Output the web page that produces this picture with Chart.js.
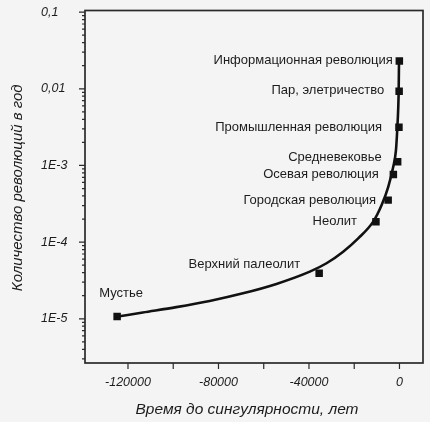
<!DOCTYPE html>
<html lang="ru">
<head>
<meta charset="utf-8">
<title>Количество революций в год</title>
<script src="https://cdn.jsdelivr.net/npm/chart.js@4.4.1/dist/chart.umd.min.js"></script>
<style>
  html, body { margin: 0; padding: 0; background: #f4f4f4; }
  #chart { display: block; }
</style>
</head>
<body>
<canvas id="chart" width="430" height="422"></canvas>
<script>
// ДАННЫЕ: события (точки)
const eventNames = ['Мустье', 'Верхний палеолит', 'Неолит', 'Городская революция', 'Осевая революция',
  'Средневековье', 'Промышленная революция', 'Пар, элетричество', 'Информационная революция'];
const eventYears = [-124800, -35500, -10400, -5000, -2700, -800, -230, -150, -60];
const eventRates = [1.07e-5, 3.93e-5, 1.85e-4, 3.53e-4, 7.6e-4, 1.12e-3, 3.15e-3, 9.3e-3, 0.023];

// ДАННЫЕ: кривая
const curveYears = [-124500, -113450, -98660, -83900, -69170, -54380, -39630, -32240, -24890,
  -18240, -11600, -7880, -4960, -2750, -1550, -1000, -530, -350, -200];
const curveRates = [1.07e-5, 1.21e-5, 1.42e-5, 1.71e-5, 2.15e-5, 2.85e-5, 4.12e-5, 5.3e-5, 7.5e-5,
  1.12e-4, 1.85e-4, 3.04e-4, 5.26e-4, 9.6e-4, 1.58e-3, 2.88e-3, 5.8e-3, 9.5e-3, 0.0235];

// ПОДПИСИ ОСЕЙ
const xTickValues = [-120000, -100000, -80000, -60000, -40000, -20000, 0];
const xTickLabels = ['-120000', '', '-80000', '', '-40000', '', '0'];
const yDecades = [1e-5, 1e-4, 1e-3, 0.01, 0.1];
const yTickLabels = ['1E-5', '1E-4', '1E-3', '0,01', '0,1'];
const xTitle = 'Время до сингулярности, лет';
const yTitle = 'Количество революций в год';

// СТИЛЬ
const fontFamily = '"Liberation Sans", Arial, sans-serif';
const textColor = '#1c1c1c';
const axisColor = '#2a2a2a';
// смещение подписи от точки: [dx, dy, выравнивание]
const labelOffsets = [[4, -23, 'center'], [-19, -9, 'right'], [-19, 0, 'right'], [-12, 0, 'right'],
  [-14.5, 0, 'right'], [-16, -4.5, 'right'], [-17, 0, 'right'], [-15, -1, 'right'], [-6.5, -0.5, 'right']];

// РАМКА, ЗАСЕЧКИ, ПОДПИСИ ОСЕЙ
const frameAndMarks = {
  id: 'frameAndMarks',
  afterDraw(chart) {
    const { ctx, chartArea: a, scales } = chart;
    ctx.save();
    ctx.strokeStyle = axisColor;
    ctx.lineWidth = 1.2;
    ctx.beginPath();
    scales.y.ticks.forEach(t => {
      const py = scales.y.getPixelForValue(t.value);
      const len = t.label ? 6 : 3;
      ctx.moveTo(a.left - len, py);
      ctx.lineTo(a.left, py);
    });
    scales.x.ticks.forEach(t => {
      const px = scales.x.getPixelForValue(t.value);
      ctx.moveTo(px, a.bottom);
      ctx.lineTo(px, a.bottom + 6);
    });
    ctx.stroke();
    ctx.lineWidth = 1.7;
    ctx.strokeRect(a.left, a.top, a.right - a.left, a.bottom - a.top);

    ctx.fillStyle = textColor;
    ctx.textAlign = 'center';
    ctx.textBaseline = 'middle';
    ctx.font = 'italic 15.5px ' + fontFamily;
    ctx.fillText(xTitle, 247, 410);
    ctx.font = 'italic 15px ' + fontFamily;
    ctx.translate(18, (a.top + a.bottom) / 2 + 1);
    ctx.rotate(-Math.PI / 2);
    ctx.fillText(yTitle, 0, 0);
    ctx.restore();
  }
};

// ПОДПИСИ ТОЧЕК
const pointLabels = {
  id: 'pointLabels',
  afterDatasetsDraw(chart) {
    const { ctx } = chart;
    const meta = chart.getDatasetMeta(0);
    ctx.save();
    ctx.fillStyle = textColor;
    ctx.font = '13px ' + fontFamily;
    ctx.textBaseline = 'middle';
    meta.data.forEach((el, i) => {
      const [dx, dy, align] = labelOffsets[i];
      ctx.textAlign = align;
      ctx.fillText(eventNames[i], el.x + dx, el.y + dy);
    });
    ctx.restore();
  }
};

const events = eventYears.map((x, i) => ({ x, y: eventRates[i] }));
const curve = curveYears.map((x, i) => ({ x, y: curveRates[i] }));

new Chart(document.getElementById('chart'), {
  type: 'scatter',
  data: {
    datasets: [
      {
        label: 'События',
        data: events,
        pointStyle: 'rect',
        pointRadius: 5.3,
        backgroundColor: '#111',
        borderColor: '#111',
        borderWidth: 0,
        showLine: false
      },
      {
        label: 'Кривая',
        data: curve,
        showLine: true,
        pointRadius: 0,
        borderColor: '#111',
        borderWidth: 2.6,
        cubicInterpolationMode: 'monotone'
      }
    ]
  },
  options: {
    responsive: false,
    animation: false,
    layout: { padding: { left: 41, top: 10, right: 7, bottom: 0 } },
    plugins: { legend: { display: false }, tooltip: { enabled: false } },
    scales: {
      x: {
        type: 'linear',
        min: -139000,
        max: 10400,
        grid: { display: false, drawTicks: false },
        border: { display: false },
        afterBuildTicks(scale) {
          scale.ticks = xTickValues.map(v => ({ value: v }));
        },
        afterFit(scale) { scale.height = 59; },
        ticks: {
          autoSkip: false,
          maxRotation: 0,
          padding: 12,
          color: textColor,
          font: { family: fontFamily, size: 12.5, style: 'italic' },
          callback: value => {
            const i = xTickValues.indexOf(value);
            return i >= 0 ? xTickLabels[i] : '';
          }
        }
      },
      y: {
        type: 'logarithmic',
        min: 2.65e-6,
        max: 0.105,
        grid: { display: false, drawTicks: false },
        border: { display: false },
        afterBuildTicks(scale) {
          const ticks = [];
          for (let e = -6; e <= -1; e++) {
            for (let k = 1; k <= 9; k++) {
              const v = Number((k * Math.pow(10, e)).toPrecision(3));
              if (v >= scale.min && v <= scale.max) ticks.push({ value: v });
            }
          }
          scale.ticks = ticks;
        },
        afterFit(scale) { scale.width = 44; },
        ticks: {
          autoSkip: false,
          crossAlign: 'far',
          color: textColor,
          font: { family: fontFamily, size: 12.5, style: 'italic' },
          callback: value => {
            const i = yDecades.findIndex(d => Math.abs(d - value) / d < 1e-6);
            return i >= 0 ? yTickLabels[i] : '';
          }
        }
      }
    }
  },
  plugins: [frameAndMarks, pointLabels]
});
</script>
</body>
</html>
